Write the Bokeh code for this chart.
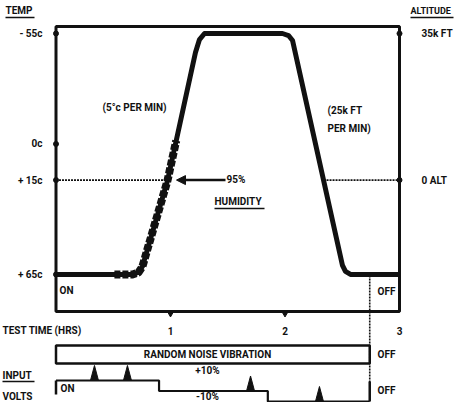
import numpy as np
from bokeh.plotting import figure
from bokeh.models import Range1d, Arrow, NormalHead
from bokeh.core.properties import value
from bokeh.embed import file_html
from bokeh.resources import INLINE

# ---------------- data ----------------
# temperature / altitude profile: time (hours) vs temperature (deg C); -55c level = 35k FT
profile_time = [0.0, 0.668, 0.721, 0.755, 0.974, 1.218, 1.253, 1.297, 1.978, 2.031, 2.066, 2.502, 2.528, 2.572, 3.0]
profile_temp = [65, 65, 64.0, 61.0, 18.2, -45.5, -52.0, -55, -55, -54.0, -51.5, 60.5, 63.5, 65, 65]
# humidity exposure (95%) along the rising part of the profile
humidity_time = [0.51, 0.668, 0.721, 0.755, 0.974, 1.05]
humidity_temp = [65, 65, 64.0, 61.0, 18.2, -1.7]
temp_ticks = [-55, 0, 18, 65]
temp_labels = ["- 55c", "0c", "+ 15c", "+ 65c"]
alt_ticks = [-55, 18]
alt_labels = ["35k FT", "0 ALT"]
time_ticks = [1, 2, 3]
time_labels = ["1", "2", "3"]
ambient_level = 18          # dotted reference line (0 ALT)
test_end = 3.0
off_time = 2.74             # vibration / input volts switched off
volt_step_time = [0.0, 0.90, 1.85, 2.74]
volt_step_level = [0, -1, -2, -2]
event_time = [0.336, 0.624, 1.699, 2.301]
event_level = [0, 0, -1, -2]

# ---------------- layout helpers (page px -> data) ----------------
W, H = 455, 402
def tx(px):
    return (px - 63.5) / 114.5
def ty(py):
    return -55 + (py - 41) / 2.008
def vy(py):
    return (388 - py) / 10.5

FONT = value("Roboto")
FS = "10px"
BLACK = "#111111"

p = figure(width=W, height=H, output_backend="svg", toolbar_location=None,
           x_range=Range1d(tx(8), tx(8 + W)), y_range=Range1d(ty(8 + H), ty(8)),
           x_axis_location=None, y_axis_location=None, min_border=0)
p.extra_y_ranges = {"panel": Range1d(vy(8 + H), vy(8))}
p.min_border_left = p.min_border_right = p.min_border_top = p.min_border_bottom = 0
p.grid.visible = False
p.outline_line_color = None
p.background_fill_color = "white"
p.border_fill_color = "white"

# main box
p.quad(left=0, right=test_end, top=ty(34), bottom=ty(319), fill_color=None,
       line_color=BLACK, line_width=3)

# dotted ambient line up to / from the profile
t_arr = np.array(profile_time); y_arr = np.array(profile_temp)
peak = int(np.argmin(y_arr))
rise_t = float(np.interp(ambient_level, y_arr[:peak + 1][::-1], t_arr[:peak + 1][::-1]))
fall_seg = slice(peak, len(y_arr))
fall_t = float(np.interp(ambient_level, y_arr[fall_seg], t_arr[fall_seg]))
p.segment(x0=[0, fall_t], y0=[ambient_level] * 2, x1=[rise_t, test_end], y1=[ambient_level] * 2,
          line_color=BLACK, line_width=1.6, line_dash="2 1")

# profile
p.line(profile_time, profile_temp, line_color=BLACK, line_width=5, line_join="round")
# humidity overlay
p.line(humidity_time, humidity_temp, line_color=BLACK, line_width=8, line_dash="6 2",
       line_join="round")

# 95% arrow
p.add_layout(Arrow(x_start=tx(233), y_start=ambient_level, x_end=tx(184), y_end=ambient_level,
                   line_color=BLACK, line_width=2.5,
                   end=NormalHead(size=9, fill_color=BLACK, line_color=BLACK)))

# axis tick marks
p.scatter([0] * len(temp_ticks), temp_ticks, marker="circle", size=5, color=BLACK)
p.scatter([test_end] * len(alt_ticks), alt_ticks, marker="circle", size=5, color=BLACK)
p.scatter(time_ticks[:2], [ty(321)] * 2, marker="inverted_triangle", size=6, color=BLACK)

# tick labels
p.text(x=[tx(50)] * len(temp_ticks), y=temp_ticks, text=temp_labels, text_font=FONT,
       text_font_size=FS, text_font_style="bold", text_align="right", text_baseline="middle",
       text_color=BLACK)
p.text(x=[tx(429)] * len(alt_ticks), y=alt_ticks, text=alt_labels, text_font=FONT,
       text_font_size=FS, text_font_style="bold", text_align="left", text_baseline="middle",
       text_color=BLACK)
p.text(x=time_ticks, y=[ty(338)] * 3, text=time_labels, text_font=FONT,
       text_font_size=FS, text_font_style="bold", text_align="center", text_baseline="middle",
       text_color=BLACK)

# annotations in main area
ann_x = [tx(13), tx(142), tx(335), tx(335), tx(234), tx(222), tx(67), tx(385), tx(10)]
ann_y = [ty(18), ty(115), ty(118), ty(136), ty(187), ty(209), ty(298), ty(299), ty(338)]
ann_text = ["TEMP", "(5\u00b0c PER MIN)", "(25k FT", "PER MIN)", "95%", "HUMIDITY",
            "ON", "OFF", "TEST TIME (HRS)"]
ann_align = ["left", "center", "left", "left", "left", "left", "left", "left", "left"]
p.text(x=ann_x, y=ann_y, text=ann_text, text_align=ann_align, text_font=FONT,
       text_font_size=FS, text_font_style="bold", text_baseline="middle", text_color=BLACK)
p.text(x=[tx(418)], y=[ty(18)], text=["ALTITUDE"], text_align="left", text_font=FONT,
       text_font_size="9px", text_font_style="bold", text_baseline="middle", text_color=BLACK)
# underlines
p.segment(x0=[tx(13), tx(418), tx(222)], y0=[ty(25), ty(25), ty(216)],
          x1=[tx(42), tx(461), tx(272)], y1=[ty(25), ty(25), ty(216)],
          line_color=BLACK, line_width=1.5)

# vertical "off" line (dotted)
p.segment(x0=[off_time], y0=[vy(283)], x1=[off_time], y1=[vy(390)], y_range_name="panel",
          line_color=BLACK, line_width=1.6, line_dash="2 1")

# vibration bar
p.quad(left=0, right=off_time, top=vy(353), bottom=vy(371), y_range_name="panel",
       fill_color=None, line_color=BLACK, line_width=2.5)
# input volts step
p.step(volt_step_time, volt_step_level, mode="after", y_range_name="panel",
       line_color=BLACK, line_width=2.2)
p.segment(x0=[0, off_time], y0=[0, volt_step_level[-1]], x1=[0, off_time], y1=[vy(402), vy(389)],
          y_range_name="panel", line_color=BLACK, line_width=2.5)
# event markers
ev_xs = [[t - 0.035, t, t + 0.035] for t in event_time]
ev_ys = [[lv, lv + 1.43, lv] for lv in event_level]
p.patches(ev_xs, ev_ys, y_range_name="panel", fill_color=BLACK, line_color=BLACK)

# lower annotations
low_x = [tx(215), tx(385), tx(10), tx(10), tx(68), tx(215), tx(215), tx(385)]
low_y = [vy(362), vy(362), vy(383), vy(404), vy(396), vy(378), vy(404), vy(398)]
low_text = ["RANDOM NOISE VIBRATION", "OFF", "INPUT", "VOLTS", "ON", "+10%", "-10%", "OFF"]
low_align = ["center", "left", "left", "left", "left", "center", "center", "left"]
p.text(x=low_x, y=low_y, text=low_text, text_align=low_align, y_range_name="panel",
       text_font=FONT, text_font_size=FS, text_font_style="bold", text_baseline="middle",
       text_color=BLACK)
p.segment(x0=[tx(10)], y0=[vy(389)], x1=[tx(42)], y1=[vy(389)], y_range_name="panel",
          line_color=BLACK, line_width=1.5)

open("out.html", "w").write(file_html(p, INLINE))
